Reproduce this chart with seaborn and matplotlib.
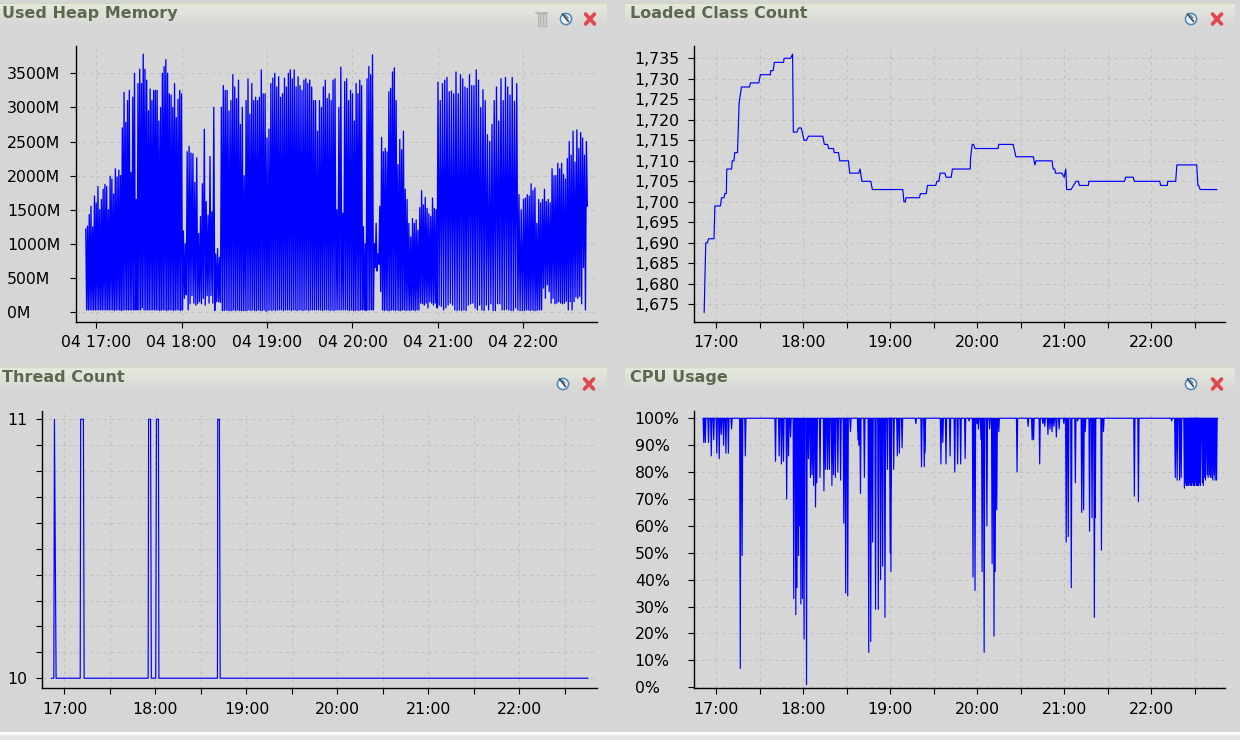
import numpy as np
import pandas as pd
import matplotlib
matplotlib.use("Agg")
import matplotlib.pyplot as plt
import matplotlib.dates as mdates
from matplotlib.ticker import FuncFormatter, FixedLocator
import seaborn as sns

# ---------- data ----------
BASE = pd.Timestamp("2012-01-04 17:00")

# Used heap memory (MB): spike tops and troughs, one list per clock hour
heap_peaks_h16 = [1220,1260,1430,1550,1250,1700,1600,1840,1500,1650,1800,1870,1840,1500,1990,1950,1730,2100,1980,2080,2000,
                  2700,3220,2780,3100,3250,2050,3150,3500,1650,3350,3560,3350,3780,3560,3400,2950,3270,3100,3250,3250,3250,
                  2800,3000,3500,3600,3700,3500,3200,3180,3000,3350,2850,3120,3250]
heap_lows_h16 = [30,30,30,30,30,30,30,30,30,30,30,30,30,30,30,30,20,30,30,30,20,30,30,30,30,30,30,30,30,30,30,30,60,30,
                 30,30,30,30,30,30,30,30,20,30,30,30,20,30,30,30,20,30,30,30,20]
heap_peaks_h18 = [3200,1190,1000,2350,2430,2330,2320,1900,2260,1150,1400,1880,2680,1620,1420,2280,1470,3000,850,930,800,
                  3000,3320,3250,3250,2950,3100,3480,3300,3130,3400,2750,3000,2000,3100,3420,2900,3350,3100,3150,3100,3150,3550,3200,3200]
heap_lows_h18 = [30,200,250,30,120,240,130,100,120,150,120,200,100,240,130,240,130,20,150,150,140,20,20,30,20,20,20,30,20,
                 30,20,20,20,20,20,30,20,30,20,20,30,20,20,30,10]
heap_peaks_h19 = [2550,2680,3350,3430,3500,3300,3450,3150,3200,3430,3300,3500,3550,3420,3550,3300,3450,3320,3250,3400,3420,
                  3350,3400,3300,3100,3100,2650,3100,3000,3300,3400,3130,3200,3100,3400,3420,1500,3000,3590,1450,3380,3420,3100,3250]
heap_lows_h19 = [20,30,20,30,20,30,30,30,20,30,30,30,20,30,30,20,30,30,20,30,30,20,30,30,30,30,30,30,20,30,30,30,20,30,20,
                 30,30,30,30,30,30,30,20,30]
heap_peaks_h20 = [3200,2800,3350,3200,3400,3320,1250,1000,3420,3600,3480,3770,1000,1300,850,1550,2560,2350,2400,2350,3230,
                  3280,3520,3580,3100,2160,2530,2380,2650,1800,1650,1300,1100,1370,1300,1350,1200,1530,1780,1570,1680,1520,1440,1400,1670,1520,1500]
heap_lows_h20 = [20,20,30,20,30,30,30,20,30,30,30,30,650,600,700,300,30,20,30,20,20,30,30,20,30,20,20,30,30,20,30,20,30,
                 30,20,30,30,130,120,100,130,60,150,130,100,130,60]
heap_peaks_h21 = [3370,3100,3350,3400,3440,3230,3240,3200,3520,3200,3480,3420,3300,3280,3480,3320,3320,3550,3400,3000,3260,
                  3100,2600,2500,2750,3100,3300,2800,3420,3100,3440,3300,3180,3440,3090,3350,1720,1500]
heap_lows_h21 = [100,80,30,60,100,130,100,30,20,30,20,30,20,100,120,130,60,30,100,30,20,100,30,120,20,20,120,120,30,30,40,
                 30,20,20,60,30,20,20]
heap_peaks_h22 = [1650,1670,1720,1700,1880,1780,1820,1300,1650,1600,1650,1800,1620,1650,1600,2100,2000,2000,2180,2100,2180,
                  2020,1950,2250,2500,2300,2650,2200,2670,2400,2630,2550,2300,2500]
heap_lows_h22 = [20,30,30,20,30,20,20,30,30,30,350,200,400,300,130,200,120,130,150,130,120,130,160,30,150,30,150,220,200,
                 230,120,650,30,1550]

# Loaded classes: minutes after 17:00 and count
class_minutes = [-8.2,-7.1,-6,-5.2,-1.4,-.8,3,3.8,5.5,6,7.1,7.4,10.7,11.2,12.3,12.9,14.8,15.9,17.5,23,23.8,29.5,30.6,37.5,37.7,
                 39.4,40.2,46.5,47,51.4,52.8,53.3,55.8,56.9,58.8,60.7,62.4,63.7,73.6,74.7,76.9,77.7,81,81.5,84.5,85.3,91.3,
                 92.2,98.5,99.3,100.6,106.7,107.8,128.8,129.6,130.5,131,140.3,140.9,145,145.8,151.5,152.3,153.7,154.5,157.8,
                 158.6,162.2,163,175.3,175.6,176.7,177.5,178.6,194.5,195,204.9,206.8,218.8,219.9,220.7,231.7,232.5,233.6,234.1,
                 238.5,240.1,241.2,241.8,244.8,248.3,250,250.5,256.8,257.1,281.7,282.5,287.7,288.5,306,306.6,311.2,311.5,317,
                 317.8,331.5,332.3,332.8,333.9,345.4]
class_counts = [1673,1690,1690,1691,1691,1699,1699,1701,1701,1702,1702,1708,1708,1710,1710,1712,1712,1724,1728,1728,1729,1729,
                1731,1731,1732,1732,1734,1734,1735,1735,1736,1717,1717,1718,1718,1715,1715,1716,1716,1714,1714,1713,1713,1712,
                1712,1710,1710,1707,1707,1708,1705,1705,1703,1703,1700,1700,1701,1701,1702,1702,1704,1704,1705,1705,1707,1707,
                1706,1706,1708,1708,1711,1714,1714,1713,1713,1714,1714,1711,1711,1709,1710,1710,1708,1708,1707,1707,1706,1708,
                1703,1703,1705,1705,1704,1704,1705,1705,1706,1706,1705,1705,1704,1704,1705,1705,1709,1709,1704,1704,1703,1703]

# Thread count
thread_minutes = [-8.6,-7,-6.6,-5.5,10.4,10.7,12.5,13,55.2,55.5,56.8,57.3,60.2,60.7,62,62.3,100.9,101.1,101.6,101.9,102.2,102.7,345.3]
thread_counts = [10,10,11,10,10,11,11,10,10,11,11,10,10,11,11,10,10,11,11,11,11,10,10]

# CPU usage: downward spikes from 100 %
cpu_dip_minutes = [-8.5,-7.4,-5.2,-3.3,-1.6,.5,2.2,3.6,5.2,6.8,8.5,10.7,16.7,18,20.2,
                   41,43.5,45.1,46.5,48.7,50,51.4,53.6,55,55.8,56.9,57.7,58.5,59.6,60.7,62.4,63.7,65.1,66.2,67.3,68.6,69.5,71.7,
                   74.4,75.5,76.9,78.2,79.9,81,82.3,84,85.9,88.1,89.4,90.8,92.7,97.9,98.5,99.6,102.3,105.3,106.7,108,110,111.9,
                   113.5,114.9,116.5,118.2,120.1,120.6,122.5,125,126.4,128.3,137.8,141.7,143.6,144.1,155.1,156.4,158.6,161.4,
                   164.6,166.6,168.7,171.8,174.5,177.2,178.6,180,181,182.7,183.5,184.9,186.8,188.7,190.4,191.7,192.5,193.6,195,
                   207.6,215.2,218,219,223.2,225.4,226.7,228.9,230.3,231.7,233,234.7,236.6,239.9,241.5,242.9,245,247.8,249.4,
                   252.2,253.5,254.6,257.6,259.3,260.9,261.5,265.8,267.2,288.5,291.3,314.2,316.7,318,319.7,320.8,323,
                   323.6,324.2,324.9,325.7,326.3,326.9,327.5,328.1,328.7,329.3,329.9,330.5,331.1,331.7,332.3,332.9,333.5,334.1,
                   335.5,336.1,337,337.6,338.8,339.4,340.4,341,342,342.6,343.6,344.2,345.2]
cpu_dip_values = [91,91,91,86,92,87,85,94,90,87,87,96,7,49,86,
                  84,86,83,84,70,86,93,33,27,37,49,60,31,33,18,1,85,78,79,75,67,76,78,73,81,81,81,75,79,78,80,77,61,35,34,95,92,
                  90,72,78,13,17,54,29,29,40,45,26,81,50,43,81,86,87,89,98,82,82,87,83,91,83,86,80,83,83,85,99,41,36,98,96,92,43,
                  13,60,96,46,19,43,66,95,80,97,92,92,83,98,97,94,96,95,97,93,96,98,54,56,37,76,99,65,66,95,58,63,26,63,51,95,71,
                  69,99,78,77,77,78,74,
                  76,75,75,75,76,75,75,75,76,75,75,76,75,75,75,75,76,75,
                  76,75,78,77,79,78,79,78,78,77,79,77,77]
cpu_start_min = -8.8
cpu_end_min = 346.0

# ---------- helpers ----------
def when(minutes):
    return BASE + pd.to_timedelta(np.asarray(minutes, dtype=float), unit="m")

heap_t, heap_v = [], []
hour_chunks = [(-7.2, 60, heap_peaks_h16, heap_lows_h16), (60, 120, heap_peaks_h18, heap_lows_h18),
               (120, 180, heap_peaks_h19, heap_lows_h19), (180, 240, heap_peaks_h20, heap_lows_h20),
               (240, 300, heap_peaks_h21, heap_lows_h21), (300, 345.5, heap_peaks_h22, heap_lows_h22)]
for start, stop, peaks, lows in hour_chunks:
    n = len(peaks)
    edges = np.linspace(start, stop, n + 1)
    step = edges[1] - edges[0]
    lo = np.resize(lows, n)
    for e, p, l in zip(edges[:-1], peaks, lo):
        heap_t += [e, e + step / 2]
        heap_v += [p, l]

cpu_t, cpu_v = [cpu_start_min], [100.0]
for m, v in zip(cpu_dip_minutes, cpu_dip_values):
    cpu_t += [m - 0.42, m, m + 0.42]
    cpu_v += [100.0, v, 100.0]
cpu_t.append(cpu_end_min); cpu_v.append(100.0)

# ---------- style ----------
BG = "#d6d6d6"
sns.set_theme(style="ticks", rc={
    "figure.facecolor": BG, "axes.facecolor": "none", "axes.edgecolor": "black",
    "axes.linewidth": 1.0, "xtick.color": "black", "ytick.color": "black",
    "text.color": "black", "xtick.major.size": 4.4, "ytick.major.size": 4.4,
    "xtick.major.width": 0.8, "ytick.major.width": 0.8,
})
plt.rcParams["font.family"] = ["DejaVu Sans"]

fig = plt.figure(figsize=(12.4, 7.4), dpi=100, facecolor=BG)

# window chrome, drawn in a full-figure layer
chrome = fig.add_axes([0, 0, 1, 1], zorder=-1)
chrome.set_xlim(0, 1240); chrome.set_ylim(740, 0); chrome.axis("off")
chrome.set_facecolor(BG)
grad = np.linspace(0, 1, 24)[:, None, None]
top_c = np.array([0xe6, 0xea, 0xde])[None, None, :] / 255
bot_c = np.array([0xd6, 0xd6, 0xd6])[None, None, :] / 255
grad_img = top_c * (1 - grad) + bot_c * grad

def draw_clock(x, y):
    chrome.add_patch(plt.Circle((x, y), 5.6, fc="#eef2f5", ec="#4f86b5", lw=1.1, zorder=4))
    chrome.plot([x - 3.5, x + 2.5], [y - 5, y + 2.5], color="#33475a", lw=1.2, zorder=5)
    chrome.plot([x - 1, x + 2], [y - 4, y - 1], color="#6d7f90", lw=1.0, zorder=5)

def draw_close(x, y):
    chrome.plot([x - 4.5, x + 4.5], [y - 5, y + 5], color="#e2474d", lw=2.6, solid_capstyle="round", zorder=5)
    chrome.plot([x - 4.5, x + 4.5], [y + 5, y - 5], color="#e2474d", lw=2.6, solid_capstyle="round", zorder=5)

def draw_trash(x, y):
    chrome.add_patch(plt.Rectangle((x - 4, y - 5), 8, 12, fc="#cbcbc7", ec="#b6b6b2", lw=0.9, zorder=4))
    chrome.plot([x - 5.5, x + 5.5], [y - 6.5, y - 6.5], color="#b6b6b2", lw=1.4, zorder=5)
    chrome.plot([x - 1.3, x - 1.3], [y - 3, y + 5], color="#b0b0ac", lw=0.7, zorder=5)
    chrome.plot([x + 1.3, x + 1.3], [y - 3, y + 5], color="#b0b0ac", lw=0.7, zorder=5)

panels = [
    ("Used Heap Memory", 0, 607, 3, 2, (566, 19), (590, 19), (541.5, 19)),
    ("Loaded Class Count", 625, 1235, 3, 630, (1191, 19), (1217, 19), None),
    ("Thread Count", 0, 607, 367, 2, (563, 384), (589, 384), None),
    ("CPU Usage", 625, 1235, 367, 630, (1191, 384), (1217, 384), None),
]
for title, x0, x1, y0, tx, clock, close, trash in panels:
    chrome.imshow(grad_img, extent=(x0, x1, y0 + 24, y0), aspect="auto", zorder=1)
    chrome.plot([x0, x1], [y0, y0], color="#cfd8c4", lw=1.0, zorder=2)
    chrome.text(tx, y0 + 10.5, title, fontsize=11.5, fontweight="bold", color="#5b6a4e", va="center", ha="left", zorder=3)
    draw_clock(*clock); draw_close(*close)
    if trash:
        draw_trash(*trash)
chrome.set_xlim(0, 1240); chrome.set_ylim(740, 0)
chrome.add_patch(plt.Rectangle((0, 731.5), 1240, 3.5, fc="white", ec="none"))
chrome.add_patch(plt.Rectangle((0, 735), 1240, 5, fc="#e6e6e6", ec="none"))

def make_axes(l, r, t, b):
    return fig.add_axes([l / 1240, 1 - b / 740, (r - l) / 1240, (b - t) / 740])

GRID = dict(color="#c0c0c0", lw=0.75, ls=(0, (3, 3.5)))

def style(ax, xlim_min, ylim, half_hours, pad_px, xfmt):
    ax.set_xlim(when(xlim_min[0]), when(xlim_min[1]))
    ax.set_ylim(*ylim)
    ax.set_xlabel(""); ax.set_ylabel("")
    sns.despine(ax=ax)
    ax.xaxis.set_major_locator(mdates.HourLocator())
    ax.xaxis.set_major_formatter(mdates.DateFormatter(xfmt))
    if half_hours:
        ax.xaxis.set_minor_locator(mdates.MinuteLocator(byminute=[30]))
        ax.tick_params(axis="x", which="minor", length=4.4, width=0.8, color="black")
    ax.grid(True, which="both", axis="x", **GRID)
    ax.grid(True, which="both", axis="y", **GRID)
    ax.set_axisbelow(True)
    ax.tick_params(axis="x", which="major", labelsize=11.3, pad=5.2)
    ax.tick_params(axis="y", which="major", labelsize=11.3, pad=pad_px * 0.72)
    for lab in ax.get_yticklabels():
        lab.set_ha("left")

LINE = dict(color="#0000ff", lw=0.85, estimator=None, sort=False, errorbar=None)
HEAP_LINE = dict(LINE, lw=0.95)

# heap
ax1 = make_axes(75.5, 597, 45.7, 322)
sns.lineplot(x=when(heap_t), y=heap_v, ax=ax1, **HEAP_LINE)
ax1.set_yticks(np.arange(0, 3501, 500))
ax1.yaxis.set_major_formatter(FuncFormatter(lambda v, _: f"{int(v)}M"))
style(ax1, (-14.4, 351.6), (-147, 3905), False, 62.5, "%d %H:%M")

# classes
ax2 = make_axes(694.3, 1224.7, 45.7, 322)
sns.lineplot(x=when(class_minutes), y=class_counts, ax=ax2, **LINE)
ax2.set_yticks(np.arange(1675, 1736, 5))
ax2.yaxis.set_major_formatter(FuncFormatter(lambda v, _: f"{int(v):,}"))
style(ax2, (-15, 350.8), (1670.7, 1738.07), True, 53.5, "%H:%M")

# threads
ax3 = make_axes(42, 597, 410.7, 688.3)
sns.lineplot(x=when(thread_minutes), y=thread_counts, ax=ax3, **LINE)
ax3.set_yticks([10, 11])
ax3.yaxis.set_major_formatter(FuncFormatter(lambda v, _: f"{int(v)}"))
ax3.yaxis.set_minor_locator(FixedLocator(np.arange(10.1, 11, 0.1)))
ax3.tick_params(axis="y", which="minor", length=4.4, width=0.8, color="black")
style(ax3, (-14.8, 351.2), (9.961, 11.033), True, 29, "%H:%M")

# cpu
ax4 = make_axes(694.3, 1224.7, 410.7, 688.3)
sns.lineplot(x=when(cpu_t), y=cpu_v, ax=ax4, **LINE)
ax4.set_yticks(np.arange(0, 101, 10))
ax4.yaxis.set_major_formatter(FuncFormatter(lambda v, _: f"{int(v)}%"))
style(ax4, (-15, 350.8), (-0.37, 102.8), True, 53.5, "%H:%M")

fig.savefig("out.png", dpi=100, facecolor=BG)
